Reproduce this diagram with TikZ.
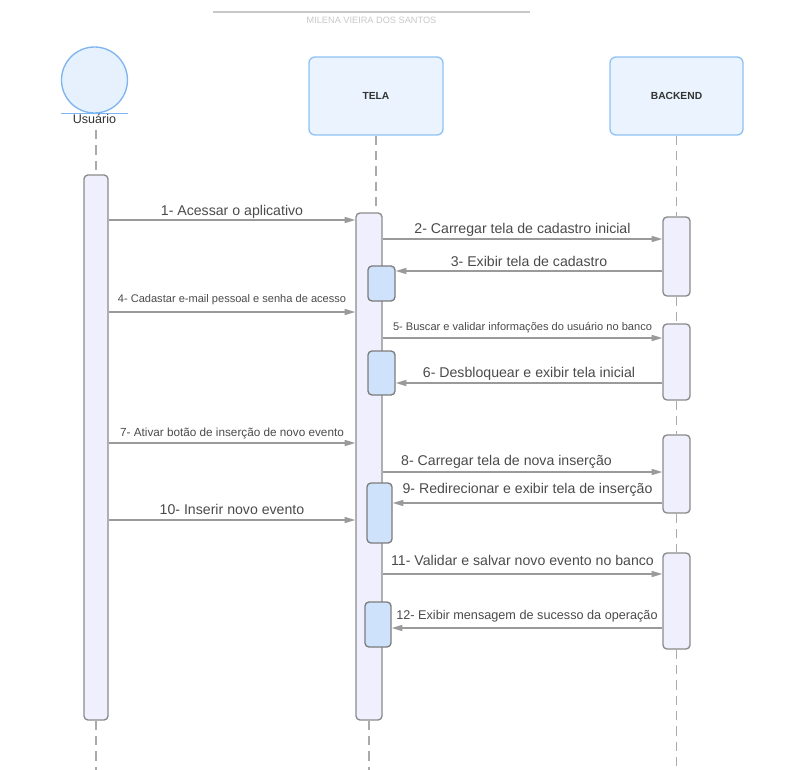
\documentclass[tikz,border=0pt]{standalone}
\usepackage{fontspec}
\setmainfont{Liberation Sans}
\usetikzlibrary{arrows.meta,positioning,fit}
\definecolor{headfill}{HTML}{EBF4FE}
\definecolor{headline}{HTML}{8EC1F5}
\definecolor{actorfill}{HTML}{E6F1FD}
\definecolor{actorline}{HTML}{7DB5F0}
\definecolor{actfill}{HTML}{EFEFFD}
\definecolor{actline}{HTML}{8A8A8A}
\definecolor{bluefill}{HTML}{CFE2FB}
\definecolor{arrowgray}{HTML}{9A9A9A}
\definecolor{lifegray}{HTML}{AAAAAA}
\definecolor{msgtext}{HTML}{4A4A4A}
\definecolor{headtext}{HTML}{333333}
\definecolor{titlegray}{HTML}{C8C8C8}
\tikzset{
	>={Triangle[length=8pt,width=4.5pt]},
	head/.style={
		rectangle,
		rounded corners=4.5pt,
		fill=headfill,
		draw=headline, line width=1pt,
		text=headtext,
		font=\fontsize{7.7}{9}\selectfont\bfseries},
	actor/.style={
		circle,
		fill=actorfill,
		draw=actorline, line width=1pt,
		minimum size=49.5pt},
	act/.style={
		rectangle,
		rounded corners=3pt,
		fill=actfill,
		draw=actline, line width=1pt,
		inner sep=0pt},
	actblue/.style={act, fill=bluefill, draw=actline!90!black},
	life/.style={draw=lifegray, line width=1.1pt, dash pattern=on 7pt off 4.5pt},
	msgline/.style={draw=arrowgray, line width=1.1pt, ->},
	msg/.style={anchor=base, inner sep=0pt, text=msgtext,
		font=\fontsize{10.6}{12}\selectfont},
	msgsmall/.style={msg, font=\fontsize{8.3}{10}\selectfont},
}

\begin{document}
\begin{tikzpicture}[x=0.75pt, y=-0.75pt]
\useasboundingbox (0,0) rectangle (788,770);

% title
\draw[titlegray, line width=1.1pt] (213,12) -- (530,12);
\node[anchor=base, inner sep=0pt, text=titlegray, font=\fontsize{6.9}{8}\selectfont] (title) at (371.5,24) {MILENA VIEIRA DOS SANTOS};

% participants
\node[actor] (usr) at (94.5,80) {};
\draw[actorline, line width=1pt] (usr.south -| usr.west) -- (usr.south -| usr.east);
\node[anchor=base, inner sep=0pt, text=headtext, font=\fontsize{9.4}{11}\selectfont] (usrlbl) at (94.5,124) {Usuário};
\node[head, minimum width=100.5pt, minimum height=58.5pt] (tela) at (376,96) {TELA};
\node[head, minimum width=99.75pt, minimum height=58.5pt] (back) at (676.5,96) {BACKEND};

% activations
\node[act, fit={(84,175) (108,720)}] (ua) {};
\node[act, fit={(356,213) (382,720)}] (ta) {};
\node[act, fit={(663,217) (690,296)}] (ba1) {};
\node[act, fit={(663,324) (690,400)}] (ba2) {};
\node[act, fit={(663,435) (690,513)}] (ba3) {};
\node[act, fit={(663,553) (690,649)}] (ba4) {};

% lifelines
\draw[life] (ua.north |- 0,130) -- (ua.north);
\draw[life] (ua.south) -- (ua.south |- 0,770);
\draw[life] (tela.south) -- (tela.south |- ta.north);
\draw[life] (ta.south) -- (ta.south |- 0,770);
\draw[life] (back.south) -- (ba1.north);
\draw[life] (ba1.south) -- (ba2.north);
\draw[life] (ba2.south) -- (ba3.north);
\draw[life] (ba3.south) -- (ba4.north);
\draw[life] (ba4.south) -- (ba4.south |- 0,770);

\node[actblue, fit={(368,266) (395,301)}] (tb1) {};
\node[actblue, fit={(368,351) (395,395)}] (tb2) {};
\node[actblue, fit={(367,483) (392,543)}] (tb3) {};
\node[actblue, fit={(365,602) (391,647)}] (tb4) {};

% messages
\draw[msgline] (ua.east |- 0,220) -- (ta.west |- 0,220)
	node[msg, pos=.5, yshift=3.75pt] {1- Acessar o aplicativo};
\draw[msgline] (ta.east |- 0,239) -- (ba1.west |- 0,239)
	node[msg, pos=.5, yshift=4.5pt] {2- Carregar tela de cadastro inicial};
\draw[msgline] (ba1.west |- 0,271) -- (tb1.east |- 0,271)
	node[msg, pos=.5, yshift=3.75pt] {3- Exibir tela de cadastro};
\draw[msgline] (ua.east |- 0,312) -- (ta.west |- 0,312)
	node[msgsmall, pos=.5, yshift=7.5pt] {4- Cadastar e-mail pessoal e senha de acesso};
\draw[msgline] (ta.east |- 0,338) -- (ba2.west |- 0,338)
	node[msgsmall, pos=.5, yshift=6pt] {5- Buscar e validar informações do usuário no banco};
\draw[msgline] (ba2.west |- 0,383) -- (tb2.east |- 0,383)
	node[msg, pos=.5, yshift=4.5pt] {6- Desbloquear e exibir tela inicial};
\draw[msgline] (ua.east |- 0,443) -- (ta.west |- 0,443)
	node[msg, pos=.5, yshift=5.25pt, font=\fontsize{8.8}{10}\selectfont] {7- Ativar botão de inserção de novo evento};
\draw[msgline] (ta.east |- 0,472) -- (ba3.west |- 0,472)
	node[msg, pos=.5, xshift=-12pt, yshift=5.25pt] {8- Carregar tela de nova inserção};
\draw[msgline] (ba3.west |- 0,503) -- (tb3.east |- 0,503)
	node[msg, pos=.5, yshift=7.5pt] {9- Redirecionar e exibir tela de inserção};
\draw[msgline] (ua.east |- 0,520) -- (ta.west |- 0,520)
	node[msg, pos=.5, yshift=4.5pt] {10- Inserir novo evento};
\draw[msgline] (ta.east |- 0,574) -- (ba4.west |- 0,574)
	node[msg, pos=.5, yshift=6.75pt] {11- Validar e salvar novo evento no banco};
\draw[msgline] (ba4.west |- 0,628) -- (tb4.east |- 0,628)
	node[msg, pos=.5, yshift=6.75pt, font=\fontsize{9.5}{11}\selectfont] {12- Exibir mensagem de sucesso da operação};
\end{tikzpicture}
\end{document}
